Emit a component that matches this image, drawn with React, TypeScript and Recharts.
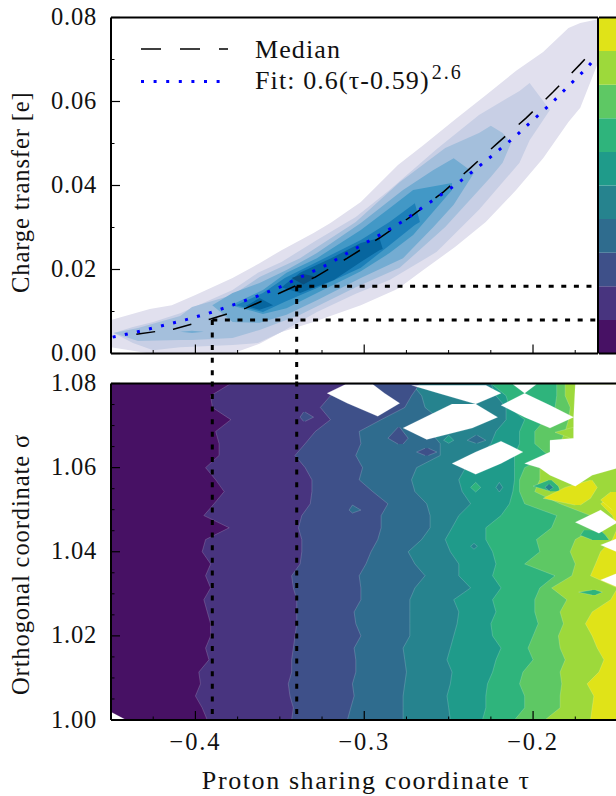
import { ComposedChart, BarChart, Bar, Area, Line, XAxis, YAxis, ReferenceLine, Legend, Label } from 'recharts';

const FONT = '"Liberation Serif", serif';

// ---- upper panel: charge transfer density contours (tau, low edge, high edge)
const lvl1Tau = [-0.45, -0.427, -0.414, -0.4, -0.378, -0.362, -0.349, -0.33, -0.32, -0.302, -0.28, -0.265, -0.246, -0.228, -0.21, -0.194, -0.179, -0.172, -0.1615];
const lvl1Lo = [0.0015, 0, 0, 0, 0, 0.0023, 0.0051, 0.0075, 0.0089, 0.0115, 0.0154, 0.0199, 0.0254, 0.0313, 0.0389, 0.0465, 0.0551, 0.0585, 0.0692];
const lvl1Hi = [0.008, 0.0106, 0.0115, 0.0139, 0.018, 0.0215, 0.0246, 0.0287, 0.0311, 0.0361, 0.0449, 0.0496, 0.0558, 0.0615, 0.0673, 0.0718, 0.0775, 0.0787, 0.0796];

const lvl2Tau = [-0.4485, -0.437, -0.425, -0.409, -0.378, -0.363, -0.349, -0.328, -0.305, -0.285, -0.257, -0.232, -0.208, -0.202, -0.19];
const lvl2Lo = [0.0049, 0.0025, 0.0008, 0.0015, 0.002, 0.0025, 0.0051, 0.0099, 0.0142, 0.0175, 0.0242, 0.0342, 0.0454, 0.0508, 0.058];
const lvl2Hi = [0.0049, 0.0063, 0.0075, 0.0096, 0.0151, 0.0192, 0.0218, 0.027, 0.0325, 0.0389, 0.0487, 0.0568, 0.0625, 0.0644, 0.058];

const lvl3Tau = [-0.4485, -0.434, -0.409, -0.402, -0.378, -0.362, -0.338, -0.305, -0.279, -0.252, -0.232, -0.225, -0.218, -0.213];
const lvl3Lo = [0.0049, 0.003, 0.0032, 0.0032, 0.0037, 0.0056, 0.0092, 0.0158, 0.0204, 0.0301, 0.0389, 0.042, 0.0454, 0.0501];
const lvl3Hi = [0.0049, 0.0061, 0.0089, 0.0111, 0.0139, 0.0182, 0.0227, 0.0313, 0.0408, 0.0489, 0.0525, 0.0542, 0.0525, 0.0501];

const lvl4Tau = [-0.39, -0.378, -0.362, -0.346, -0.328, -0.302, -0.277, -0.259, -0.247, -0.235];
const lvl4Lo = [0.0115, 0.0075, 0.0073, 0.0092, 0.0127, 0.018, 0.0227, 0.0301, 0.0354, 0.043];
const lvl4Hi = [0.0115, 0.0144, 0.0168, 0.0199, 0.0239, 0.0311, 0.0389, 0.0437, 0.0465, 0.043];

const lvl4bTau = [-0.409, -0.402, -0.395];
const lvl4bLo = [0.0052, 0.0049, 0.0052];
const lvl4bHi = [0.0052, 0.0054, 0.0052];

const lvl5Tau = [-0.379, -0.36, -0.346, -0.328, -0.302, -0.285, -0.271, -0.248];
const lvl5Lo = [0.0115, 0.0094, 0.0108, 0.0144, 0.0196, 0.0239, 0.0282, 0.0389];
const lvl5Hi = [0.0115, 0.0151, 0.0192, 0.0227, 0.0294, 0.0346, 0.0389, 0.0406];

const lvl6Tau = [-0.376, -0.36, -0.347, -0.328, -0.302, -0.285, -0.27, -0.267];
const lvl6Lo = [0.0115, 0.0099, 0.0123, 0.0156, 0.0204, 0.0258, 0.0306, 0.0313];
const lvl6Hi = [0.0115, 0.0144, 0.018, 0.0218, 0.027, 0.0313, 0.0358, 0.0313];

const lvl7Tau = [-0.349, -0.338, -0.318, -0.302, -0.291, -0.289];
const lvl7Lo = [0.0158, 0.0144, 0.0175, 0.0218, 0.0246, 0.0249];
const lvl7Hi = [0.0158, 0.0192, 0.023, 0.0263, 0.0275, 0.0249];

const lvl7bTau = [-0.37, -0.362, -0.354];
const lvl7bLo = [0.0113, 0.0104, 0.0115];
const lvl7bHi = [0.0113, 0.0132, 0.0115];

const lvl8Tau = [-0.343, -0.336, -0.328];
const lvl8Lo = [0.018, 0.0164, 0.0182];
const lvl8Hi = [0.018, 0.0189, 0.0182];

const medianTau = [-0.435, -0.413, -0.391, -0.37, -0.35, -0.329, -0.31, -0.291, -0.272, -0.253, -0.237, -0.221, -0.204, -0.188, -0.172, -0.165];
const medianQ = [0.0046, 0.0058, 0.0082, 0.0108, 0.0144, 0.0182, 0.0227, 0.0275, 0.0327, 0.0385, 0.0442, 0.0501, 0.0561, 0.0623, 0.0689, 0.072];

const fitTau = [-0.449, -0.435, -0.421, -0.406, -0.392, -0.378, -0.363, -0.35, -0.336, -0.322, -0.31, -0.29, -0.277, -0.265, -0.246, -0.234, -0.223, -0.211, -0.2, -0.189, -0.179, -0.168, -0.163];
const fitQ = [0.0039, 0.0051, 0.0065, 0.008, 0.0096, 0.0115, 0.0137, 0.0158, 0.0185, 0.0211, 0.0239, 0.0284, 0.0315, 0.0349, 0.0401, 0.0439, 0.0475, 0.0515, 0.0556, 0.0596, 0.0637, 0.068, 0.0704];

// ---- lower panel: contour edges read row by row along sigma
const sigmaRows = [1.0, 1.0029, 1.0057, 1.0086, 1.0114, 1.0143, 1.0171, 1.02, 1.0229, 1.0257, 1.0286, 1.0314, 1.0343, 1.0371, 1.04, 1.0429, 1.0457, 1.0486, 1.0514, 1.0543, 1.0571, 1.06, 1.0629, 1.0657, 1.0686, 1.0714, 1.0743, 1.0771, 1.08];
const edge1 = [-0.393, -0.396, -0.4, -0.397, -0.398, -0.392, -0.394, -0.391, -0.391, -0.393, -0.395, -0.391, -0.394, -0.391, -0.396, -0.394, -0.38, -0.395, -0.389, -0.383, -0.388, -0.394, -0.386, -0.386, -0.388, -0.379, -0.39, -0.391, -0.379];
const edge2 = [-0.343, -0.342, -0.344, -0.345, -0.343, -0.343, -0.342, -0.341, -0.34, -0.34, -0.34, -0.342, -0.343, -0.338, -0.337, -0.337, -0.339, -0.337, -0.332, -0.331, -0.331, -0.335, -0.341, -0.335, -0.329, -0.32, -0.326, -0.32, -0.308];
const edge3 = [-0.31, -0.308, -0.306, -0.307, -0.305, -0.305, -0.306, -0.302, -0.305, -0.306, -0.302, -0.302, -0.303, -0.299, -0.296, -0.292, -0.29, -0.29, -0.286, -0.295, -0.303, -0.301, -0.305, -0.302, -0.303, -0.29, -0.276, -0.272, -0.267];
const edge4 = [-0.277, -0.277, -0.277, -0.276, -0.275, -0.276, -0.277, -0.273, -0.273, -0.273, -0.273, -0.27, -0.264, -0.27, -0.274, -0.266, -0.261, -0.261, -0.263, -0.27, -0.272, -0.269, -0.255, -0.255, -0.261, -0.255, -0.264, -0.266, -0.272];
const edge5 = [-0.249, -0.25, -0.251, -0.249, -0.248, -0.251, -0.249, -0.247, -0.245, -0.244, -0.247, -0.237, -0.244, -0.244, -0.249, -0.252, -0.248, -0.244, -0.237, -0.242, -0.244, -0.24, -0.231, -0.225, -0.222, -0.216, -0.216, -0.222, -0.225];
const edge6 = [-0.23, -0.228, -0.228, -0.227, -0.224, -0.222, -0.219, -0.224, -0.225, -0.222, -0.224, -0.219, -0.224, -0.222, -0.224, -0.228, -0.228, -0.219, -0.214, -0.212, -0.211, -0.211, -0.211, -0.208, -0.208, -0.205, -0.214, -0.216, -0.225];
const edge7 = [-0.211, -0.205, -0.205, -0.208, -0.206, -0.2, -0.203, -0.2, -0.197, -0.199, -0.199, -0.196, -0.187, -0.205, -0.196, -0.198, -0.189, -0.186, -0.205, -0.208, -0.208, -0.205, -0.191, -0.199, -0.199, -0.193, -0.187, -0.186, -0.186];
const edge8 = [-0.193, -0.184, -0.184, -0.183, -0.184, -0.181, -0.184, -0.185, -0.182, -0.184, -0.18, -0.189, -0.177, -0.175, -0.178, -0.175, -0.163, -0.166, -0.184, -0.199, -0.196, -0.196, -0.166, -0.184, -0.181, -0.179, -0.178, -0.181, -0.181];
const edge9 = [-0.166, -0.165, -0.164, -0.168, -0.161, -0.158, -0.162, -0.165, -0.169, -0.165, -0.154, -0.15, -0.166, -0.163, -0.16, -0.153, -0.15, -0.153, -0.16, -0.15, -0.15, -0.15, -0.15, -0.15, -0.15, -0.15, -0.15, -0.15, -0.15];

const viridis = ['#471164', '#48347f', '#3e5089', '#2f6c8e', '#26838e', '#1f9b8a', '#2fb47c', '#5ec864', '#9dd93b', '#e0e318'];
const blues = ['#e1e0ee', '#c8cfe5', '#a4bfdc', '#74acd2', '#4298c6', '#1c7fb8', '#07669f', '#0a4f7e'];

const tauFull = sigmaRows.map(() => -0.15);
const tauLeft = sigmaRows.map(() => -0.45);

// small closed regions: sigma, low tau, high tau, colour index into viridis (-1 = no data, white)
const islands: [number[], number[], number[], number][] = [
  [[1.0732, 1.072, 1.071], [-0.336, -0.338, -0.336], [-0.335, -0.33, -0.335], 2],
  [[1.0511, 1.0499, 1.0492], [-0.307, -0.309, -0.307], [-0.307, -0.302, -0.307], 3],
  [[1.0696, 1.067, 1.0656], [-0.28, -0.286, -0.28], [-0.279, -0.274, -0.277], 2],
  [[1.0646, 1.0637, 1.0629], [-0.264, -0.269, -0.264], [-0.262, -0.257, -0.262], 2],
  [[1.0677, 1.0665, 1.0658], [-0.234, -0.239, -0.234], [-0.233, -0.228, -0.233], 3],
  [[1.0677, 1.0665, 1.0658], [-0.25, -0.253, -0.25], [-0.25, -0.247, -0.25], 5],
  [[1.0565, 1.0553, 1.0542], [-0.234, -0.237, -0.234], [-0.234, -0.231, -0.234], 6],
  [[1.0565, 1.0553, 1.0542], [-0.22, -0.222, -0.22], [-0.22, -0.218, -0.22], 4],
  [[1.042, 1.0413, 1.0406], [-0.235, -0.237, -0.235], [-0.235, -0.233, -0.235], 4],
  [[1.057, 1.0556, 1.0544], [-0.191, -0.2, -0.19], [-0.189, -0.185, -0.184], 6],
  [[1.056, 1.0553, 1.0547], [-0.191, -0.193, -0.191], [-0.19, -0.188, -0.19], 4],
  [[1.0309, 1.0304, 1.0297], [-0.165, -0.173, -0.165], [-0.163, -0.159, -0.163], 6],
  [[1.0451, 1.0439, 1.0428], [-0.17, -0.172, -0.165], [-0.16, -0.157, -0.155], 6],
  [[1.0696, 1.0684, 1.067], [-0.176, -0.187, -0.178], [-0.176, -0.176, -0.176], 8],
  [[1.057, 1.0553, 1.0527, 1.0511], [-0.166, -0.181, -0.194, -0.175], [-0.165, -0.162, -0.166, -0.172], 9],
  [[1.0542, 1.0523, 1.0499], [-0.154, -0.16, -0.153], [-0.15, -0.15, -0.15], 9],
  [[1.0798, 1.0777, 1.0753, 1.0722], [-0.311, -0.322, -0.31, -0.292], [-0.295, -0.288, -0.279, -0.292], -1],
  [[1.0751, 1.072, 1.0694, 1.0667], [-0.248, -0.264, -0.277, -0.263], [-0.234, -0.221, -0.236, -0.263], -1],
  [[1.0663, 1.0637, 1.061, 1.0584], [-0.219, -0.234, -0.248, -0.234], [-0.219, -0.206, -0.219, -0.234], -1],
  [[1.0796, 1.0777, 1.0751], [-0.272, -0.256, -0.234], [-0.228, -0.219, -0.234], -1],
  [[1.0798, 1.0777, 1.0748, 1.072, 1.0694], [-0.212, -0.205, -0.219, -0.205, -0.19], [-0.198, -0.205, -0.19, -0.176, -0.19], -1],
  [[1.0798, 1.072, 1.067, 1.0665, 1.0637, 1.061, 1.0599, 1.0582, 1.0556], [-0.175, -0.176, -0.176, -0.19, -0.19, -0.205, -0.196, -0.19, -0.175], [-0.15, -0.15, -0.15, -0.15, -0.15, -0.15, -0.15, -0.165, -0.175], -1],
  [[1.0499, 1.047, 1.0444], [-0.16, -0.175, -0.161], [-0.16, -0.15, -0.161], -1],
  [[1.0432, 1.0416, 1.0399], [-0.15, -0.16, -0.15], [-0.15, -0.15, -0.15], -1],
  [[1.0349, 1.0333, 1.0316], [-0.15, -0.16, -0.15], [-0.15, -0.15, -0.15], -1],
  [[1.0, 1.0019], [-0.45, -0.45], [-0.441, -0.45], -1],
];

const tauTicks = [-0.425, -0.4, -0.375, -0.35, -0.325, -0.3, -0.275, -0.25, -0.225, -0.2, -0.175];
const tauMajor = [-0.4, -0.3, -0.2];
const tauLabels = ['\u22120.4', '\u22120.3', '\u22120.2'];
const qTicks = [0, 0.01, 0.02, 0.03, 0.04, 0.05, 0.06, 0.07, 0.08];
const qMajor = [0, 0.02, 0.04, 0.06, 0.08];
const sigmaTicks = [1.0, 1.005, 1.01, 1.015, 1.02, 1.025, 1.03, 1.035, 1.04, 1.045, 1.05, 1.055, 1.06, 1.065, 1.07, 1.075, 1.08];
const sigmaMajor = [1.0, 1.02, 1.04, 1.06, 1.08];

const colorbarRow = [{ name: 'levels', b0: 1, b1: 1, b2: 1, b3: 1, b4: 1, b5: 1, b6: 1, b7: 1, b8: 1, b9: 1 }];

const zipBand = (key: string, pos: number[], lo: number[], hi: number[]) =>
  pos.map((p, i) => ({ [key]: p, range: [lo[i], hi[i]] }));

const upperLevels = [
  { c: blues[0], d: zipBand('tau', lvl1Tau, lvl1Lo, lvl1Hi) },
  { c: blues[1], d: zipBand('tau', lvl2Tau, lvl2Lo, lvl2Hi) },
  { c: blues[2], d: zipBand('tau', lvl3Tau, lvl3Lo, lvl3Hi) },
  { c: blues[3], d: zipBand('tau', lvl4Tau, lvl4Lo, lvl4Hi) },
  { c: blues[3], d: zipBand('tau', lvl4bTau, lvl4bLo, lvl4bHi) },
  { c: blues[4], d: zipBand('tau', lvl5Tau, lvl5Lo, lvl5Hi) },
  { c: blues[5], d: zipBand('tau', lvl6Tau, lvl6Lo, lvl6Hi) },
  { c: blues[6], d: zipBand('tau', lvl7Tau, lvl7Lo, lvl7Hi) },
  { c: blues[6], d: zipBand('tau', lvl7bTau, lvl7bLo, lvl7bHi) },
  { c: blues[7], d: zipBand('tau', lvl8Tau, lvl8Lo, lvl8Hi) },
];

const lowerBands = [
  { c: viridis[9], d: zipBand('sigma', sigmaRows, tauLeft, tauFull) },
  { c: viridis[8], d: zipBand('sigma', sigmaRows, tauLeft, edge9) },
  { c: viridis[7], d: zipBand('sigma', sigmaRows, tauLeft, edge8) },
  { c: viridis[6], d: zipBand('sigma', sigmaRows, tauLeft, edge7) },
  { c: viridis[5], d: zipBand('sigma', sigmaRows, tauLeft, edge6) },
  { c: viridis[4], d: zipBand('sigma', sigmaRows, tauLeft, edge5) },
  { c: viridis[3], d: zipBand('sigma', sigmaRows, tauLeft, edge4) },
  { c: viridis[2], d: zipBand('sigma', sigmaRows, tauLeft, edge3) },
  { c: viridis[1], d: zipBand('sigma', sigmaRows, tauLeft, edge2) },
  { c: viridis[0], d: zipBand('sigma', sigmaRows, tauLeft, edge1) },
  ...islands.map(([s, lo, hi, i]) => ({ c: i < 0 ? '#ffffff' : viridis[i], d: zipBand('sigma', s, lo, hi) })),
];

const medianData = medianTau.map((tau, i) => ({ tau, q: medianQ[i] }));
const fitData = fitTau.map((tau, i) => ({ tau, q: fitQ[i] }));

const near = (a: number, b: number) => Math.abs(a - b) < 1e-6;

// inward ticks, label only on the major ones
const InTick = ({ x, y, payload, side, major, labels }: any) => {
  const isMajor = major.some((m: number) => near(m, payload.value));
  const len = isMajor ? 9 : 3.5;
  const idx = major.findIndex((m: number) => near(m, payload.value));
  const d = { bottom: [0, -len], top: [0, len], left: [len, 0], right: [-len, 0] }[side as string] as number[];
  return (
    <g>
      <line x1={x} y1={y} x2={x + d[0]} y2={y + d[1]} stroke="#000" strokeWidth={isMajor ? 1.2 : 1} />
      {labels && isMajor && side === 'bottom' && (
        <text x={x} y={y + 30} textAnchor="middle" fontFamily={FONT} fontSize={24.5} letterSpacing={1.8} fill="#111">{labels[idx]}</text>
      )}
      {labels && isMajor && side === 'left' && (
        <text x={x - 14} y={y + 7.5} textAnchor="end" fontFamily={FONT} fontSize={24.5} letterSpacing={0.8} fill="#111">{labels[idx]}</text>
      )}
    </g>
  );
};

const SideLabel = ({ viewBox, text, rise }: any) => {
  const y = viewBox.y + viewBox.height - rise;
  return (
    <text x={29} y={y} transform={`rotate(-90 29 ${y})`} textAnchor="start" fontFamily={FONT} fontSize={24.5} letterSpacing={0.9} fill="#111">{text}</text>
  );
};

const LegendBox = () => (
  <div style={{ position: 'relative', width: 400, height: 80, fontFamily: FONT, fontSize: 26, letterSpacing: 1.1, color: '#111' }}>
    <svg width={100} height={80} style={{ position: 'absolute', left: 0, top: 0 }}>
      <line x1={2} x2={89} y1={10} y2={10} stroke="#000" strokeWidth={1.5} strokeDasharray="20 19" />
      <line x1={2} x2={82} y1={42.5} y2={42.5} stroke="#0000ff" strokeWidth={3} strokeDasharray="3 9.6" />
    </svg>
    <div style={{ position: 'absolute', left: 116, top: -3, lineHeight: '28px', whiteSpace: 'nowrap' }}>Median</div>
    <div style={{ position: 'absolute', left: 116, top: 28, lineHeight: '28px', whiteSpace: 'nowrap' }}>
      Fit: 0.6({'\u03c4'}-0.59)<span style={{ fontSize: 20, letterSpacing: 2, marginLeft: 2, position: 'relative', top: -10 }}>2.6</span>
    </div>
  </div>
);

const axisLine = { stroke: '#000', strokeWidth: 2 };
const tauDomain = [-0.45, -0.1615];
const guide = { stroke: '#000', strokeWidth: 3, strokeDasharray: '5 7.6', ifOverflow: 'visible' as const };

const App = () => (
  <div style={{ position: 'absolute', left: 0, top: 0, width: 616, height: 796, overflow: 'hidden', background: '#fff' }}>
    {/* colorbar */}
    <div style={{ position: 'absolute', left: 599, top: 0 }}>
      <BarChart width={40} height={400} data={colorbarRow} barCategoryGap={0} margin={{ top: 16.5, bottom: 45.5, left: 0, right: 0 }}>
        <XAxis xAxisId={0} dataKey="name" height={1} tick={false} tickLine={false} axisLine={axisLine} />
        <XAxis xAxisId="top" orientation="top" dataKey="name" height={1} tick={false} tickLine={false} axisLine={axisLine} />
        <YAxis hide type="number" domain={[0, 10]} />
        {viridis.map((c, i) => (
          <Bar key={c} dataKey={`b${i}`} stackId="cb" fill={c} isAnimationActive={false} />
        ))}
      </BarChart>
    </div>
    <div style={{ position: 'absolute', left: 0, top: 0 }}>
      <ComposedChart width={616} height={400} margin={{ top: 16.5, right: 17, bottom: 45.5, left: 0 }}>
        {upperLevels.map((l, i) => (
          <Area key={i} data={l.d} dataKey="range" type="linear" fill={l.c} fillOpacity={1} stroke="none" dot={false} activeDot={false} isAnimationActive={false} legendType="none" />
        ))}
        <Line data={medianData} dataKey="q" type="linear" stroke="#000" strokeWidth={1.5} strokeDasharray="19 18" dot={false} activeDot={false} isAnimationActive={false} legendType="none" />
        <Line data={fitData} dataKey="q" type="linear" stroke="#0000ff" strokeWidth={3} strokeDasharray="3 9.4" dot={false} activeDot={false} isAnimationActive={false} legendType="none" />
        <ReferenceLine segment={[{ x: -0.39, y: 0.008 }, { x: -0.1615, y: 0.008 }]} {...guide} />
        <ReferenceLine segment={[{ x: -0.34, y: 0.016 }, { x: -0.1615, y: 0.016 }]} {...guide} />
        <ReferenceLine segment={[{ x: -0.39, y: 0.008 }, { x: -0.39, y: -0.0072 }]} {...guide} />
        <ReferenceLine segment={[{ x: -0.34, y: 0.016 }, { x: -0.34, y: -0.0072 }]} {...guide} />
        <XAxis xAxisId={0} dataKey="tau" type="number" domain={tauDomain} ticks={tauTicks} interval={0} height={1} tickSize={0} tickMargin={0} tickLine={false} axisLine={axisLine} tick={(p: any) => <InTick {...p} side="bottom" major={tauMajor} />} />
        <XAxis xAxisId="top" orientation="top" dataKey="tau" type="number" domain={tauDomain} ticks={tauTicks} interval={0} height={1} tickSize={0} tickMargin={0} tickLine={false} axisLine={axisLine} tick={(p: any) => <InTick {...p} side="top" major={tauMajor} />} />
        <YAxis yAxisId={0} type="number" domain={[0, 0.08]} ticks={qTicks} interval={0} width={111} tickSize={0} tickMargin={0} tickLine={false} axisLine={axisLine} tick={(p: any) => <InTick {...p} side="left" major={qMajor} labels={qMajor.map((v) => v.toFixed(2))} />}>
          <Label content={(p: any) => <SideLabel {...p} text="Charge transfer [e]" rise={60.5} />} />
        </YAxis>
        <YAxis yAxisId="right" orientation="right" type="number" domain={[0, 0.08]} width={1} tick={false} tickLine={false} axisLine={axisLine} />
        <Legend layout="vertical" align="center" verticalAlign="middle" content={() => <LegendBox />} wrapperStyle={{ left: 139, top: 39, width: 400 }} />
      </ComposedChart>
    </div>
    <div style={{ position: 'absolute', left: 0, top: 0 }}>
      <ComposedChart layout="vertical" width={620} height={796} margin={{ top: 382.5, right: 1.5, bottom: 75, left: 0 }}>
        {lowerBands.map((l, i) => (
          <Area key={i} data={l.d} dataKey="range" type="linear" fill={l.c} fillOpacity={1} stroke="rgba(255,255,255,0.22)" strokeWidth={0.8} dot={false} activeDot={false} isAnimationActive={false} legendType="none" />
        ))}
        <ReferenceLine segment={[{ x: -0.39, y: 1.0805 }, { x: -0.39, y: 1.0005 }]} {...guide} />
        <ReferenceLine segment={[{ x: -0.34, y: 1.0805 }, { x: -0.34, y: 1.0005 }]} {...guide} />
        <XAxis xAxisId={0} type="number" domain={[-0.45, -0.15]} ticks={tauTicks} interval={0} height={1} tickSize={0} tickMargin={0} tickLine={false} axisLine={axisLine} tick={(p: any) => <InTick {...p} side="bottom" major={tauMajor} labels={tauLabels} />}>
          <Label value={'Proton sharing coordinate \u03c4'} position="bottom" offset={50} dx={2} fontFamily={FONT} fontSize={26} letterSpacing={1.6} fill="#111" />
        </XAxis>
        <XAxis xAxisId="top" orientation="top" type="number" domain={[-0.45, -0.15]} ticks={tauTicks} interval={0} height={1} tickSize={0} tickMargin={0} tickLine={false} axisLine={axisLine} tick={(p: any) => <InTick {...p} side="top" major={tauMajor} />} />
        <YAxis yAxisId={0} reversed dataKey="sigma" type="number" domain={[1, 1.08]} ticks={sigmaTicks} interval={0} width={111} tickSize={0} tickMargin={0} tickLine={false} axisLine={axisLine} tick={(p: any) => <InTick {...p} side="left" major={sigmaMajor} labels={sigmaMajor.map((v) => v.toFixed(2))} />}>
          <Label content={(p: any) => <SideLabel {...p} text={'Orthogonal coordinate \u03c3'} rise={25} />} />
        </YAxis>
        <YAxis yAxisId="right" reversed orientation="right" dataKey="sigma" type="number" domain={[1, 1.08]} ticks={sigmaTicks} interval={0} width={1} tickSize={0} tickMargin={0} tickLine={false} axisLine={axisLine} tick={(p: any) => <InTick {...p} side="right" major={sigmaMajor} />} />
      </ComposedChart>
    </div>
  </div>
);

export default App;
